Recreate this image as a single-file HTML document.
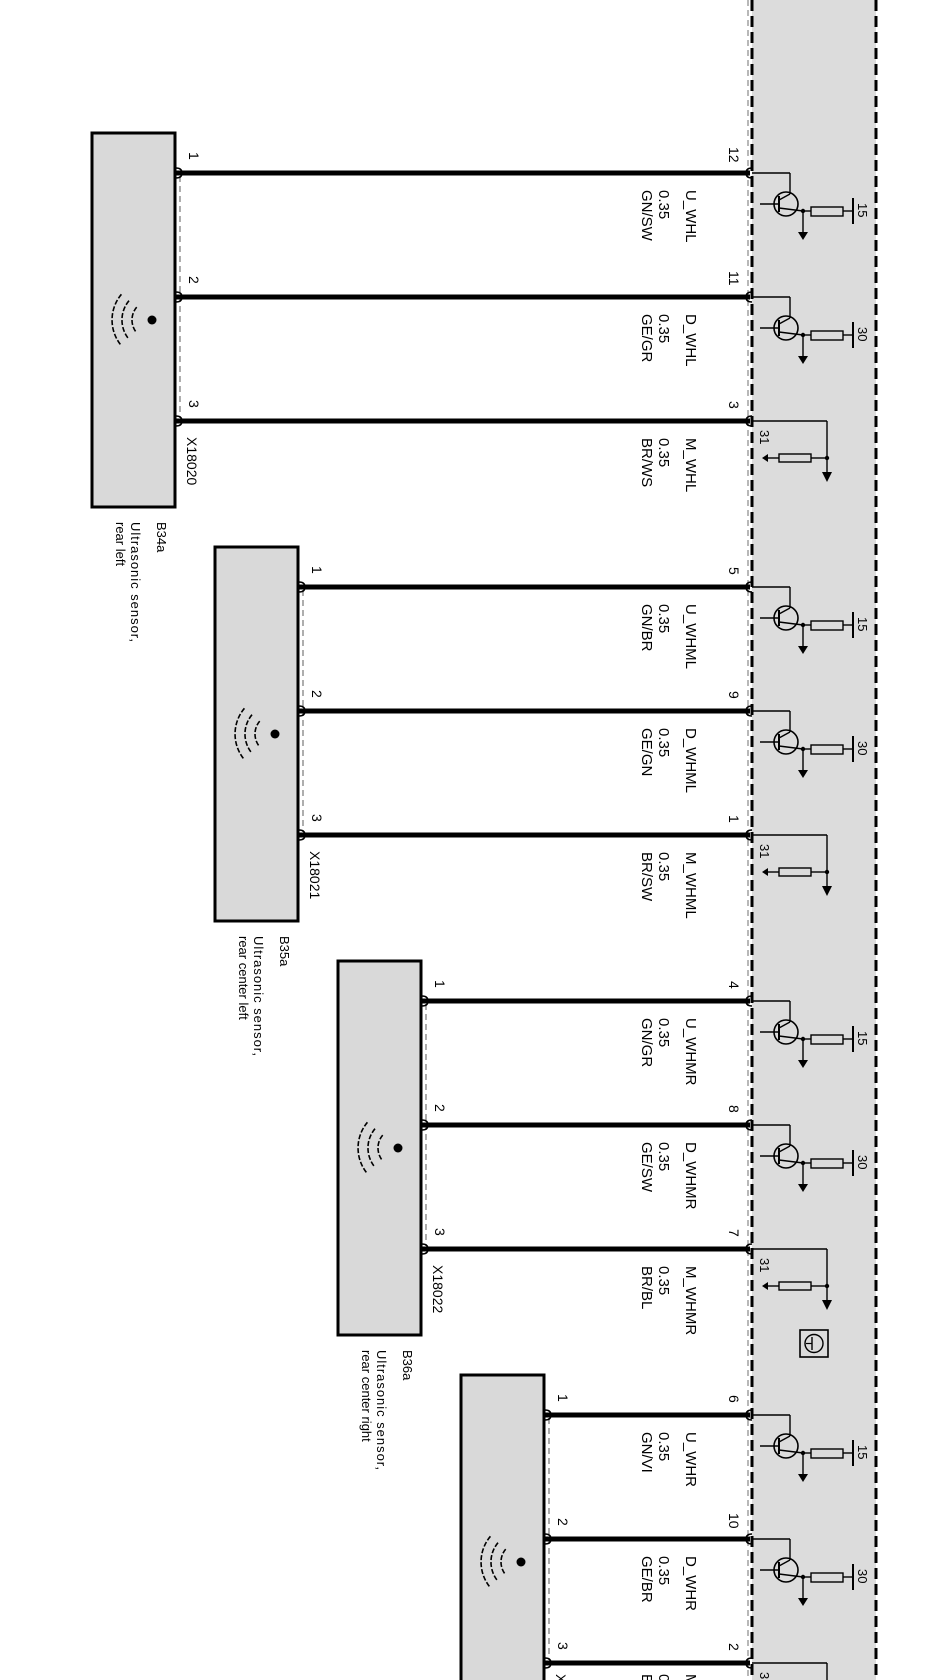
<!DOCTYPE html>
<html><head><meta charset="utf-8"><style>
html,body{margin:0;padding:0;background:#fff;}
svg{display:block;}
text{font-family:"Liberation Sans",Arial,sans-serif;fill:#000;}
.w{font-size:15px;}
.p{font-size:14px;}
.s{font-size:13px;}
</style></head><body>
<svg width="945" height="1680" viewBox="0 0 945 1680" xmlns="http://www.w3.org/2000/svg">
<defs>
<g id="box">
  <rect x="92" y="133" width="83" height="374" fill="#d9d9d9" stroke="#000" stroke-width="3"/>
  <circle cx="152" cy="320" r="4.5" fill="#000"/>
  <g fill="none" stroke="#000" stroke-width="1.6" stroke-dasharray="5 2">
    <path d="M136.7 307.1 A20 20 0 0 0 136.7 332.9"/>
    <path d="M129 300.7 A30 30 0 0 0 129 339.3"/>
    <path d="M121.4 294.3 A40 40 0 0 0 121.4 345.7"/>
  </g>
  <line x1="180" y1="176" x2="180" y2="418" stroke="#777" stroke-width="1.2" stroke-dasharray="6 4"/>
  <g fill="none" stroke="#000" stroke-width="1.5">
    <path d="M176 168 Q182 168 182 173 Q182 178 176 178"/>
    <path d="M176 292 Q182 292 182 297 Q182 302 176 302"/>
    <path d="M176 416 Q182 416 182 421 Q182 426 176 426"/>
  </g>
  <text class="p" x="189" y="152" transform="rotate(90 189 152)">1</text>
  <text class="p" x="189" y="276" transform="rotate(90 189 276)">2</text>
  <text class="p" x="189" y="400" transform="rotate(90 189 400)">3</text>
</g>
<g id="tr">
  <line x1="752" y1="0" x2="790" y2="0" stroke="#000" stroke-width="1.4"/>
  <line x1="790" y1="0" x2="790" y2="21" stroke="#000" stroke-width="1.4"/>
  <circle cx="786" cy="31" r="12" fill="none" stroke="#000" stroke-width="1.6"/>
  <line x1="760" y1="31" x2="779" y2="31" stroke="#000" stroke-width="1.4"/>
  <line x1="779" y1="23" x2="779" y2="39" stroke="#000" stroke-width="2"/>
  <line x1="779" y1="27" x2="790" y2="21" stroke="#000" stroke-width="1.4"/>
  <line x1="779" y1="35" x2="803" y2="38" stroke="#000" stroke-width="1.4"/>
  <circle cx="803" cy="38" r="2.2" fill="#000"/>
  <line x1="803" y1="38" x2="803" y2="60" stroke="#000" stroke-width="1.4"/>
  <path d="M798 59 L808 59 L803 67 Z" fill="#000"/>
  <line x1="803" y1="38" x2="811" y2="38" stroke="#000" stroke-width="1.4"/>
  <rect x="811" y="34" width="32" height="9" fill="none" stroke="#000" stroke-width="1.4"/>
  <line x1="843" y1="38" x2="853" y2="38" stroke="#000" stroke-width="1.4"/>
  <line x1="853" y1="25" x2="853" y2="51" stroke="#000" stroke-width="2"/>
</g>
<g id="gnd">
  <line x1="752" y1="0" x2="827" y2="0" stroke="#000" stroke-width="1.4"/>
  <line x1="827" y1="0" x2="827" y2="52" stroke="#000" stroke-width="1.4"/>
  <path d="M822 51 L832 51 L827 61 Z" fill="#000"/>
  <circle cx="827" cy="37" r="2.2" fill="#000"/>
  <line x1="764" y1="37" x2="779" y2="37" stroke="#000" stroke-width="1.4"/>
  <path d="M762 37 L768 33 L768 41 Z" fill="#000"/>
  <rect x="779" y="33" width="32" height="8" fill="none" stroke="#000" stroke-width="1.4"/>
  <line x1="811" y1="37" x2="827" y2="37" stroke="#000" stroke-width="1.4"/>
  <text class="s" x="760" y="9" transform="rotate(90 760 9)">31</text>
</g>
<g id="hookR" fill="none" stroke="#000" stroke-width="1.5">
  <path d="M752 -5 Q746 -5 746 0 Q746 5 752 5"/>
</g>
</defs>

<rect x="752" y="0" width="124" height="1680" fill="#dcdcdc"/>
<line x1="748" y1="0" x2="748" y2="1680" stroke="#888" stroke-width="1.2" stroke-dasharray="6 4"/>
<line x1="752" y1="0" x2="752" y2="1680" stroke="#000" stroke-width="3" stroke-dasharray="11 5"/>
<line x1="876" y1="0" x2="876" y2="1680" stroke="#000" stroke-width="3" stroke-dasharray="11 5"/>

<!-- Group 1 -->
<g>
  <use href="#box"/>
  <text class="p" x="187" y="437" transform="rotate(90 187 437)">X18020</text>
  <text class="s" x="157" y="522" transform="rotate(90 157 522)">B34a</text>
  <text class="s" x="131" y="522" transform="rotate(90 131 522)" textLength="120">Ultrasonic sensor,</text>
  <text class="s" x="116" y="522" transform="rotate(90 116 522)">rear left</text>
  <g stroke="#000" stroke-width="5"><line x1="176" y1="173" x2="750" y2="173"/><line x1="176" y1="297" x2="750" y2="297"/><line x1="176" y1="421" x2="750" y2="421"/></g>
  <use href="#hookR" y="173"/><use href="#hookR" y="297"/><use href="#hookR" y="421"/>
  <use href="#tr" y="173"/><use href="#tr" y="297"/><use href="#gnd" y="421"/>
  <text class="s" x="858" y="203" transform="rotate(90 858 203)">15</text>
  <text class="s" x="858" y="327" transform="rotate(90 858 327)">30</text>
  <text class="p" x="729" y="147" transform="rotate(90 729 147)">12</text>
  <text class="p" x="729" y="271" transform="rotate(90 729 271)">11</text>
  <text class="p" x="729" y="401" transform="rotate(90 729 401)">3</text>
  <text class="w" x="686" y="190" transform="rotate(90 686 190)">U_WHL</text>
  <text class="w" x="659" y="190" transform="rotate(90 659 190)">0.35</text>
  <text class="w" x="642" y="190" transform="rotate(90 642 190)">GN/SW</text>
  <text class="w" x="686" y="314" transform="rotate(90 686 314)">D_WHL</text>
  <text class="w" x="659" y="314" transform="rotate(90 659 314)">0.35</text>
  <text class="w" x="642" y="314" transform="rotate(90 642 314)">GE/GR</text>
  <text class="w" x="686" y="438" transform="rotate(90 686 438)">M_WHL</text>
  <text class="w" x="659" y="438" transform="rotate(90 659 438)">0.35</text>
  <text class="w" x="642" y="438" transform="rotate(90 642 438)">BR/WS</text>
</g>

<!-- Group 2 -->
<g transform="translate(0,414)">
  <use href="#box" x="123"/>
  <text class="p" x="310" y="437" transform="rotate(90 310 437)">X18021</text>
  <text class="s" x="280" y="522" transform="rotate(90 280 522)">B35a</text>
  <text class="s" x="254" y="522" transform="rotate(90 254 522)" textLength="120">Ultrasonic sensor,</text>
  <text class="s" x="239" y="522" transform="rotate(90 239 522)">rear center left</text>
  <g stroke="#000" stroke-width="5"><line x1="299" y1="173" x2="750" y2="173"/><line x1="299" y1="297" x2="750" y2="297"/><line x1="299" y1="421" x2="750" y2="421"/></g>
  <use href="#hookR" y="173"/><use href="#hookR" y="297"/><use href="#hookR" y="421"/>
  <use href="#tr" y="173"/><use href="#tr" y="297"/><use href="#gnd" y="421"/>
  <text class="s" x="858" y="203" transform="rotate(90 858 203)">15</text>
  <text class="s" x="858" y="327" transform="rotate(90 858 327)">30</text>
  <text class="p" x="729" y="153" transform="rotate(90 729 153)">5</text>
  <text class="p" x="729" y="277" transform="rotate(90 729 277)">9</text>
  <text class="p" x="729" y="401" transform="rotate(90 729 401)">1</text>
  <text class="w" x="686" y="190" transform="rotate(90 686 190)">U_WHML</text>
  <text class="w" x="659" y="190" transform="rotate(90 659 190)">0.35</text>
  <text class="w" x="642" y="190" transform="rotate(90 642 190)">GN/BR</text>
  <text class="w" x="686" y="314" transform="rotate(90 686 314)">D_WHML</text>
  <text class="w" x="659" y="314" transform="rotate(90 659 314)">0.35</text>
  <text class="w" x="642" y="314" transform="rotate(90 642 314)">GE/GN</text>
  <text class="w" x="686" y="438" transform="rotate(90 686 438)">M_WHML</text>
  <text class="w" x="659" y="438" transform="rotate(90 659 438)">0.35</text>
  <text class="w" x="642" y="438" transform="rotate(90 642 438)">BR/SW</text>
</g>

<!-- Group 3 -->
<g transform="translate(0,828)">
  <use href="#box" x="246"/>
  <text class="p" x="433" y="437" transform="rotate(90 433 437)">X18022</text>
  <text class="s" x="403" y="522" transform="rotate(90 403 522)">B36a</text>
  <text class="s" x="377" y="522" transform="rotate(90 377 522)" textLength="120">Ultrasonic sensor,</text>
  <text class="s" x="362" y="522" transform="rotate(90 362 522)">rear center right</text>
  <g stroke="#000" stroke-width="5"><line x1="422" y1="173" x2="750" y2="173"/><line x1="422" y1="297" x2="750" y2="297"/><line x1="422" y1="421" x2="750" y2="421"/></g>
  <use href="#hookR" y="173"/><use href="#hookR" y="297"/><use href="#hookR" y="421"/>
  <use href="#tr" y="173"/><use href="#tr" y="297"/><use href="#gnd" y="421"/>
  <text class="s" x="858" y="203" transform="rotate(90 858 203)">15</text>
  <text class="s" x="858" y="327" transform="rotate(90 858 327)">30</text>
  <text class="p" x="729" y="153" transform="rotate(90 729 153)">4</text>
  <text class="p" x="729" y="277" transform="rotate(90 729 277)">8</text>
  <text class="p" x="729" y="401" transform="rotate(90 729 401)">7</text>
  <text class="w" x="686" y="190" transform="rotate(90 686 190)">U_WHMR</text>
  <text class="w" x="659" y="190" transform="rotate(90 659 190)">0.35</text>
  <text class="w" x="642" y="190" transform="rotate(90 642 190)">GN/GR</text>
  <text class="w" x="686" y="314" transform="rotate(90 686 314)">D_WHMR</text>
  <text class="w" x="659" y="314" transform="rotate(90 659 314)">0.35</text>
  <text class="w" x="642" y="314" transform="rotate(90 642 314)">GE/SW</text>
  <text class="w" x="686" y="438" transform="rotate(90 686 438)">M_WHMR</text>
  <text class="w" x="659" y="438" transform="rotate(90 659 438)">0.35</text>
  <text class="w" x="642" y="438" transform="rotate(90 642 438)">BR/BL</text>
</g>

<!-- icon -->
<rect x="800" y="1330" width="28" height="27" fill="none" stroke="#000" stroke-width="1.6"/>
<circle cx="814" cy="1343.5" r="9" fill="none" stroke="#000" stroke-width="1.4"/>
<line x1="806" y1="1343.5" x2="812" y2="1343.5" stroke="#000" stroke-width="1.2"/>
<line x1="812" y1="1337" x2="812" y2="1350" stroke="#000" stroke-width="1.4"/>

<!-- Group 4 -->
<g transform="translate(0,1242)">
  <use href="#box" x="369"/>
  <g stroke="#000" stroke-width="5"><line x1="545" y1="173" x2="750" y2="173"/><line x1="545" y1="297" x2="750" y2="297"/><line x1="545" y1="421" x2="750" y2="421"/></g>
  <use href="#hookR" y="173"/><use href="#hookR" y="297"/><use href="#hookR" y="421"/>
  <use href="#tr" y="173"/><use href="#tr" y="297"/><use href="#gnd" y="421"/>
  <text class="s" x="858" y="203" transform="rotate(90 858 203)">15</text>
  <text class="s" x="858" y="327" transform="rotate(90 858 327)">30</text>
  <text class="p" x="729" y="153" transform="rotate(90 729 153)">6</text>
  <text class="p" x="729" y="271" transform="rotate(90 729 271)">10</text>
  <text class="p" x="729" y="401" transform="rotate(90 729 401)">2</text>
  <text class="w" x="686" y="190" transform="rotate(90 686 190)">U_WHR</text>
  <text class="w" x="659" y="190" transform="rotate(90 659 190)">0.35</text>
  <text class="w" x="642" y="190" transform="rotate(90 642 190)">GN/VI</text>
  <text class="w" x="686" y="314" transform="rotate(90 686 314)">D_WHR</text>
  <text class="w" x="659" y="314" transform="rotate(90 659 314)">0.35</text>
  <text class="w" x="642" y="314" transform="rotate(90 642 314)">GE/BR</text>
  <text class="w" x="686" y="432" transform="rotate(90 686 432)">M_WHR</text>
  <text class="w" x="659" y="432" transform="rotate(90 659 432)">0.35</text>
  <text class="w" x="642" y="432" transform="rotate(90 642 432)">BR/GR</text>
  <text class="p" x="556" y="432" transform="rotate(90 556 432)">X18023</text>
</g>
</svg>
</body></html>
